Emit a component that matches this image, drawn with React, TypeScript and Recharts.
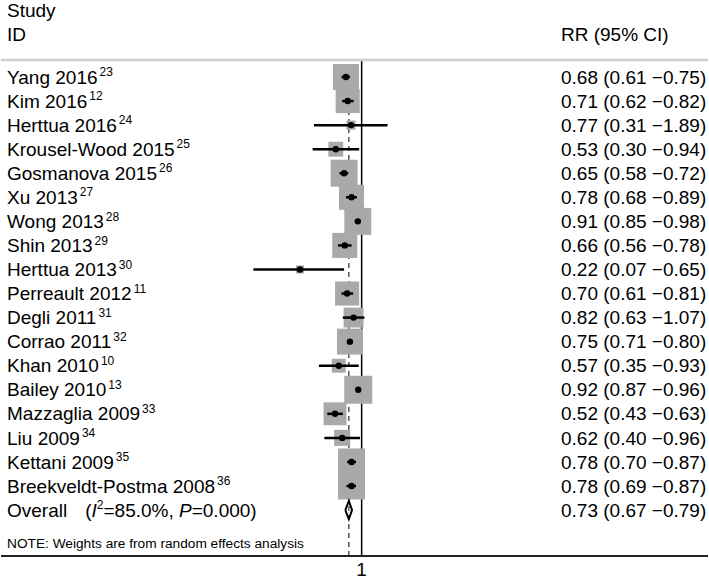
import React from 'react';
import { ScatterChart, Scatter, XAxis, YAxis, ReferenceLine } from 'recharts';

const studies = [
  'Yang 2016', 'Kim 2016', 'Herttua 2016', 'Krousel-Wood 2015', 'Gosmanova 2015', 'Xu 2013',
  'Wong 2013', 'Shin 2013', 'Herttua 2013', 'Perreault 2012', 'Degli 2011', 'Corrao 2011',
  'Khan 2010', 'Bailey 2010', 'Mazzaglia 2009', 'Liu 2009', 'Kettani 2009', 'Breekveldt-Postma 2008',
];
const refs = ['23', '12', '24', '25', '26', '27', '28', '29', '30', '11', '31', '32', '10', '13', '33', '34', '35', '36'];
const rr = [0.68, 0.71, 0.77, 0.53, 0.65, 0.78, 0.91, 0.66, 0.22, 0.70, 0.82, 0.75, 0.57, 0.92, 0.52, 0.62, 0.78, 0.78];
const lo = [0.61, 0.62, 0.31, 0.30, 0.58, 0.68, 0.85, 0.56, 0.07, 0.61, 0.63, 0.71, 0.35, 0.87, 0.43, 0.40, 0.70, 0.69];
const hi = [0.75, 0.82, 1.89, 0.94, 0.72, 0.89, 0.98, 0.78, 0.65, 0.81, 1.07, 0.80, 0.93, 0.96, 0.63, 0.96, 0.87, 0.87];
const weights = [7.3, 6.3, 0.9, 2.4, 7.9, 6.8, 7.9, 6.8, 0.7, 6.3, 4.3, 7.3, 2.1, 8.5, 5.7, 2.8, 7.9, 7.9];

const overallRR = 0.73;
const overallLo = 0.67;
const overallHi = 0.79;
const overallI2 = '85.0%';
const overallP = '0.000';
const xTicks = [1];

const W = 709;
const H = 579;
const FONT = 'Liberation Sans, Arial, sans-serif';
const FS = 19;
const SUP = 12;
const BOX_K = 9.6;
const LABEL_X = 7;
const RIGHT_X = 561;
const X_DOMAIN = [0.000142, 4957];
const Y_DOMAIN = [-0.707, 19.91];

const rows = studies.map((s, i) => ({ x: rr[i], y: i, w: weights[i] }));
const ciSegments = studies.map((s, i) => [
  { x: lo[i], y: i },
  { x: hi[i], y: i },
]);
const overallRow = studies.length;
const diamond = [
  { x: overallLo, y: overallRow },
  { x: overallRR, y: overallRow - 0.38 },
  { x: overallHi, y: overallRow },
  { x: overallRR, y: overallRow + 0.38 },
  { x: overallLo, y: overallRow },
];
const yTicks = [...studies.map((_, i) => i), overallRow];

const fmt = (i: number) => `${rr[i].toFixed(2)} (${lo[i].toFixed(2)} \u2212${hi[i].toFixed(2)})`;
const overallText = `${overallRR.toFixed(2)} (${overallLo.toFixed(2)} \u2212${overallHi.toFixed(2)})`;

const BoxShape = (props: any) => {
  const { cx, cy, payload } = props;
  const s = Math.sqrt(payload.w) * BOX_K;
  return <rect x={cx - s / 2} y={cy - s / 2} width={s} height={s} fill="#a9a9a9" />;
};

const DotShape = (props: any) => {
  const { cx, cy } = props;
  return <circle cx={cx} cy={cy} r={3.2} fill="#000" />;
};

const NoShape = () => <g />;

const LeftTick = (props: any) => {
  const { y, payload } = props;
  const i = payload.value;
  if (i === overallRow) {
    return (
      <text x={LABEL_X} y={y} dy="0.35em" fontSize={FS} fontFamily={FONT} fill="#000">
        <tspan>Overall</tspan>
        <tspan dx={18}>(</tspan>
        <tspan fontStyle="italic">I</tspan>
        <tspan dy={-7.5} fontSize={SUP}>2</tspan>
        <tspan dy={7.5}>{`=${overallI2}, `}</tspan>
        <tspan fontStyle="italic">P</tspan>
        <tspan>{`=${overallP})`}</tspan>
      </text>
    );
  }
  return (
    <text x={LABEL_X} y={y} dy="0.35em" fontSize={FS} fontFamily={FONT} fill="#000">
      <tspan>{studies[i]}</tspan>
      <tspan dx={2} dy={-7.5} fontSize={SUP}>{refs[i]}</tspan>
    </text>
  );
};

const RightTick = (props: any) => {
  const { y, payload } = props;
  const i = payload.value;
  const t = i === overallRow ? overallText : fmt(i);
  return (
    <text x={RIGHT_X} y={y} dy="0.35em" fontSize={FS} fontFamily={FONT} fill="#000" textAnchor="start">
      {t}
    </text>
  );
};

export default function App() {
  return (
    <div style={{ position: 'absolute', left: 0, top: 0, width: W, height: H, background: '#fff' }}>
      <ScatterChart width={W} height={H} margin={{ top: 59, right: 0, bottom: 0, left: 0 }}>
        <XAxis
          xAxisId="bottom"
          type="number"
          dataKey="x"
          scale="log"
          domain={X_DOMAIN}
          allowDataOverflow
          ticks={xTicks}
          tickLine={false}
          axisLine={{ stroke: '#222', strokeWidth: 2 }}
          tick={{ fontSize: FS, fontFamily: FONT, fill: '#000', dy: -1 }}
          height={23}
        />
        <XAxis
          xAxisId="top"
          orientation="top"
          type="number"
          dataKey="x"
          scale="log"
          domain={X_DOMAIN}
          allowDataOverflow
          ticks={xTicks}
          tick={false}
          tickLine={false}
          axisLine={{ stroke: '#d0d0d0', strokeWidth: 2.5 }}
          height={1}
        />
        <YAxis
          yAxisId="left"
          type="number"
          dataKey="y"
          domain={Y_DOMAIN}
          reversed
          allowDataOverflow
          ticks={yTicks}
          interval={0}
          tick={<LeftTick />}
          tickLine={false}
          axisLine={false}
          width={1}
        />
        <YAxis
          yAxisId="right"
          orientation="right"
          type="number"
          dataKey="y"
          domain={Y_DOMAIN}
          reversed
          allowDataOverflow
          ticks={yTicks}
          interval={0}
          tick={<RightTick />}
          tickLine={false}
          axisLine={false}
          width={1}
        />
        <ReferenceLine xAxisId="bottom" yAxisId="left" x={overallRR} stroke="#555" strokeWidth={1.5} strokeDasharray="5 4" />
        <ReferenceLine xAxisId="bottom" yAxisId="left" x={1} stroke="#000" strokeWidth={1.5} />
        <Scatter xAxisId="bottom" yAxisId="left" data={rows} shape={BoxShape} isAnimationActive={false} />
        {ciSegments.map((seg, i) => (
          <Scatter
            key={`ci-${i}`}
            xAxisId="bottom"
            yAxisId="left"
            data={seg}
            line={{ stroke: '#000', strokeWidth: 2.5 }}
            lineType="joint"
            shape={NoShape}
            isAnimationActive={false}
          />
        ))}
        <Scatter xAxisId="bottom" yAxisId="left" data={rows} shape={DotShape} isAnimationActive={false} />
        <Scatter
          xAxisId="bottom"
          yAxisId="left"
          data={diamond}
          line={{ stroke: '#000', strokeWidth: 2 }}
          lineType="joint"
          shape={NoShape}
          isAnimationActive={false}
        />
        <text x={LABEL_X} y={17} fontSize={FS} fontFamily={FONT} fill="#000">Study</text>
        <text x={LABEL_X} y={41} fontSize={FS} fontFamily={FONT} fill="#000">ID</text>
        <text x={RIGHT_X} y={41} fontSize={FS} fontFamily={FONT} fill="#000">RR (95% CI)</text>
        <text x={LABEL_X} y={548} fontSize={13.7} fontFamily={FONT} fill="#000">NOTE: Weights are from random effects analysis</text>
      </ScatterChart>
    </div>
  );
}
